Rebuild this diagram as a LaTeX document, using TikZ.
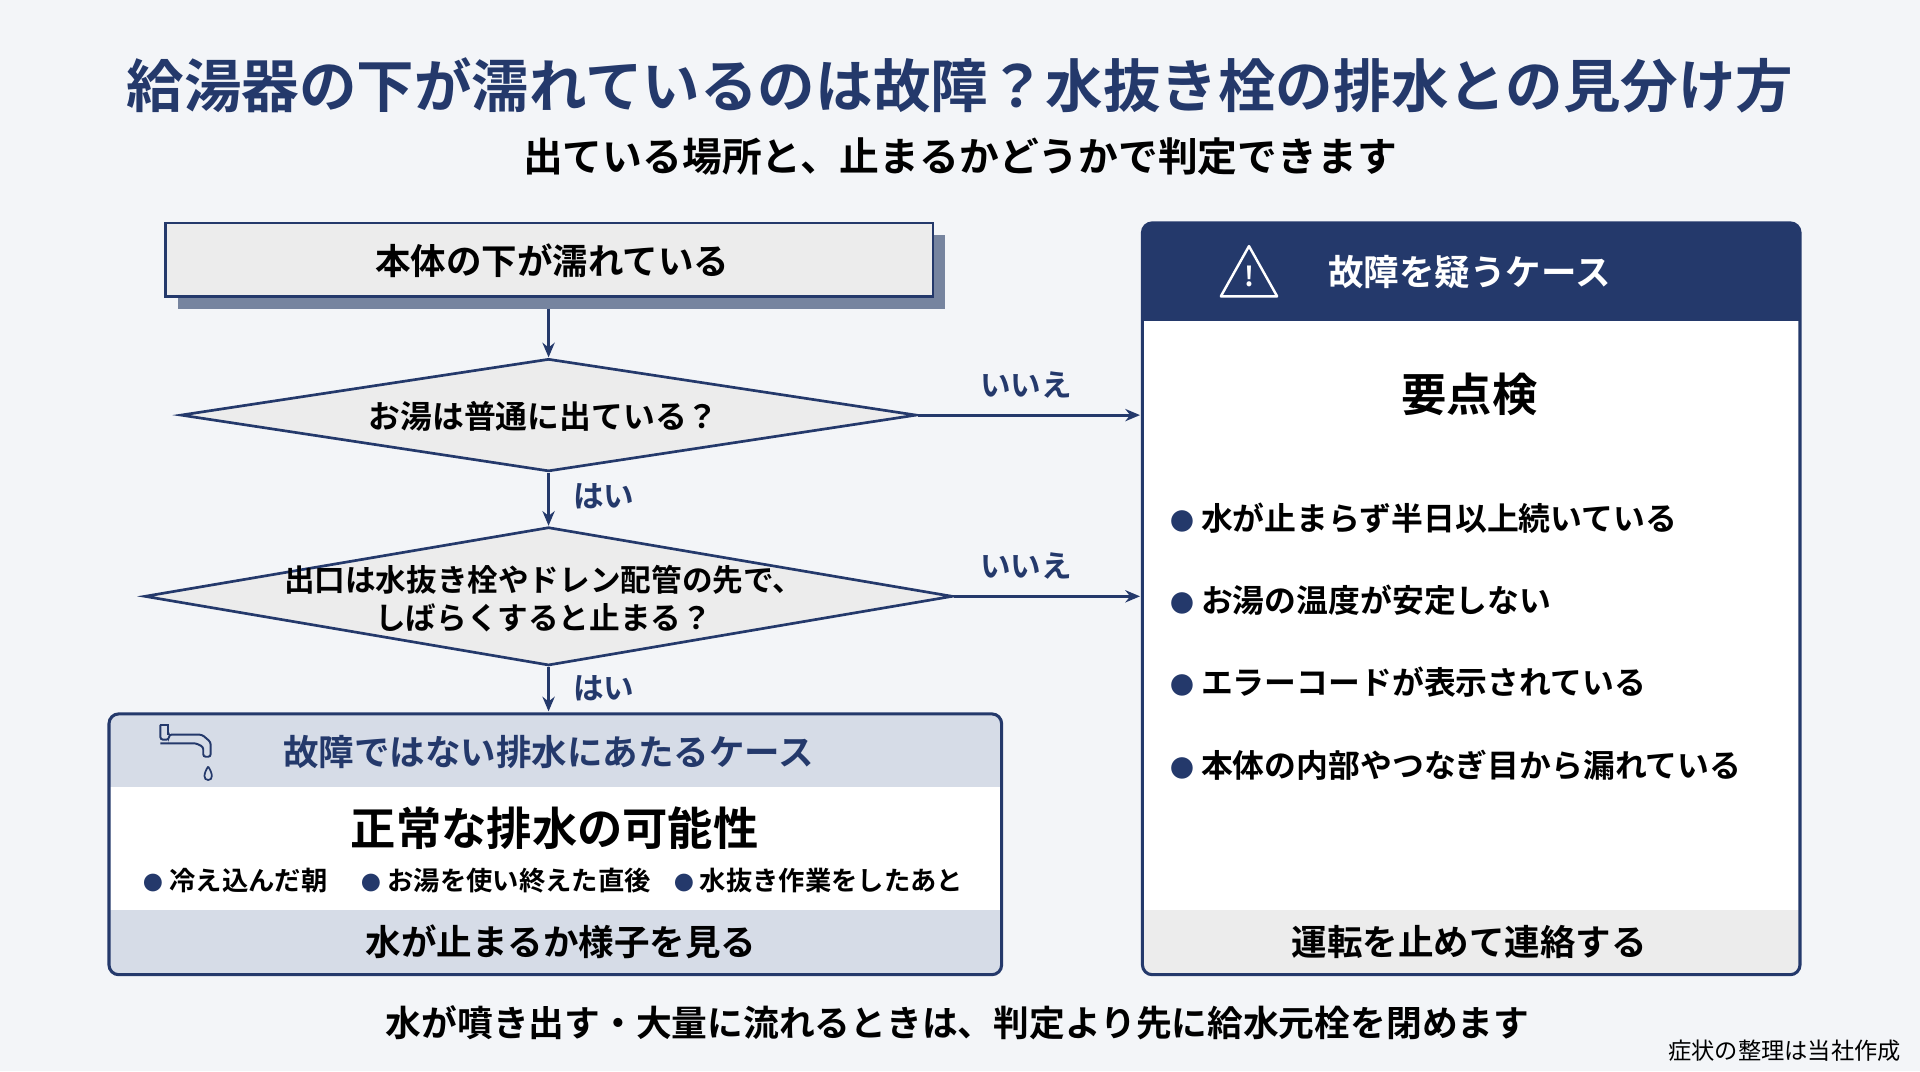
\documentclass[tikz,border=0pt]{standalone}
\usepackage{fontspec}
\setmainfont{Noto Sans CJK JP}[BoldFont={* Bold}]
\usetikzlibrary{shapes.geometric,arrows.meta}
\definecolor{navy}{HTML}{24396B}
\definecolor{bg}{HTML}{F3F5F8}
\definecolor{band}{HTML}{D6DCE7}
\definecolor{lgray}{HTML}{ECECEC}
\definecolor{shad}{HTML}{76849F}
\newcommand{\fs}[1]{\fontsize{#1bp}{1.25\dimexpr#1bp\relax}\selectfont}
\newcommand{\bdot}{{\color{navy}\scalebox{0.75}{●}}}
\tikzset{
 x=1bp,y=-1bp,
 arr/.style={draw=navy,line width=2.5bp,-{Stealth[length=12bp,width=10bp]}},
 dia/.style={diamond,draw=navy,line width=2.2bp,fill=lgray,aspect=6.5,inner sep=0pt},
 lbl/.style={text=navy,font=\bfseries\fs{25}},
 bul/.style={font=\bfseries\fs{26},anchor=west},
}
\begin{document}
\begin{tikzpicture}
\useasboundingbox[fill=bg] (0,0) rectangle (1568,875);
\node[text=navy,font=\bfseries\fs{47}] (title) at (784,70) {給湯器の下が濡れているのは故障？水抜き栓の排水との見分け方};
\node[font=\bfseries\fs{32.5}] (sub) at (784,128) {出ている場所と、止まるかどうかで判定できます};
% box1
\fill[shad] (145,192) rectangle (772,252);
\draw[navy,line width=2.2bp,fill=lgray] (135,182) rectangle (762,242);
\node[font=\bfseries\fs{29}] (b1) at (451,213) {本体の下が濡れている};
\coordinate (b1b) at (448,252);
% diamonds
\node[dia,minimum width=601bp,minimum height=92bp] (d1) at (448,339) {};
\node[font=\bfseries\fs{26}] at (444,340) {お湯は普通に出ている？};
\node[dia,minimum width=660bp,minimum height=113bp] (d2) at (448,487) {};
\node[font=\bfseries\fs{25},align=center] at (444,489) {出口は水抜き栓やドレン配管の先で、\\しばらくすると止まる？};
% left box
\begin{scope}
\clip[rounded corners=8bp] (89,583) rectangle (818,796);
\fill[band] (89,583) rectangle (818,643);
\fill[white] (89,643) rectangle (818,743);
\fill[band] (89,743) rectangle (818,796);
\end{scope}
\draw[navy,line width=2.5bp,rounded corners=8bp] (89,583) rectangle (818,796);
\coordinate (lbt) at (448,581);
\node[text=navy,font=\bfseries\fs{29}] at (448,614) {故障ではない排水にあたるケース};
\node[font=\bfseries\fs{37}] at (453,676) {正常な排水の可能性};
\node[font=\bfseries\fs{21.5},anchor=west] at (114,719) {\bdot\ 冷え込んだ朝};
\node[font=\bfseries\fs{21.5},anchor=west] at (292,719) {\bdot\ お湯を使い終えた直後};
\node[font=\bfseries\fs{21.5},anchor=west] at (547,719) {\bdot\ 水抜き作業をしたあと};
\node[font=\bfseries\fs{29}] at (458,769) {水が止まるか様子を見る};
% faucet icon
\draw[navy,line width=1.6bp,rounded corners=2bp] (131,592) -- (131,604) -- (138,604) -- (138,600) -- (165,600) -- (172,606) -- (172,618) -- (166,618) -- (166,610) -- (160,607) -- (138,607) -- (131,607);
\draw[navy,line width=1.6bp] (131,592) -- (137,592) -- (137,600);
\draw[navy,line width=1.4bp] (170,626) .. controls (166,632) and (166,637) .. (170,637) .. controls (174,637) and (174,632) .. (170,626);
% right box
\begin{scope}
\clip[rounded corners=8bp] (933,182) rectangle (1470,796);
\fill[white] (933,182) rectangle (1470,796);
\fill[navy] (933,182) rectangle (1470,262);
\fill[lgray] (933,743) rectangle (1470,796);
\end{scope}
\draw[navy,line width=2.5bp,rounded corners=8bp] (933,182) rectangle (1470,796);
\coordinate (r1) at (931,339);
\coordinate (r2) at (931,487);
\draw[white,line width=2bp,line join=round] (1020,201) -- (1043,242) -- (997,242) -- cycle;
\node[text=white,font=\bfseries\fs{22}] at (1020,226) {!};
\node[text=white,font=\bfseries\fs{29}] at (1200,222) {故障を疑うケース};
\node[font=\bfseries\fs{37}] at (1200,322) {要点検};
\node[bul] at (952,423) {\bdot\ 水が止まらず半日以上続いている};
\node[bul] at (952,490) {\bdot\ お湯の温度が安定しない};
\node[bul] at (952,557) {\bdot\ エラーコードが表示されている};
\node[bul] at (952,625) {\bdot\ 本体の内部やつなぎ目から漏れている};
\node[font=\bfseries\fs{29}] at (1200,769) {運転を止めて連絡する};
% connectors
\draw[arr] (b1b) -- (d1.north);
\draw[arr] (d1.east) -- (r1);
\draw[arr] (d1.south) -- (d2.north);
\draw[arr] (d2.east) -- (r2);
\draw[arr] (d2.south) -- (lbt);
\node[lbl] at (838,314) {いいえ};
\node[lbl] at (838,462) {いいえ};
\node[lbl] at (493,405) {はい};
\node[lbl] at (493,562) {はい};
% footer
\node[font=\bfseries\fs{29.2}] at (782,835) {水が噴き出す・大量に流れるときは、判定より先に給水元栓を閉めます};
\node[font=\fs{19},anchor=east] at (1556,858) {症状の整理は当社作成};
\end{tikzpicture}
\end{document}
